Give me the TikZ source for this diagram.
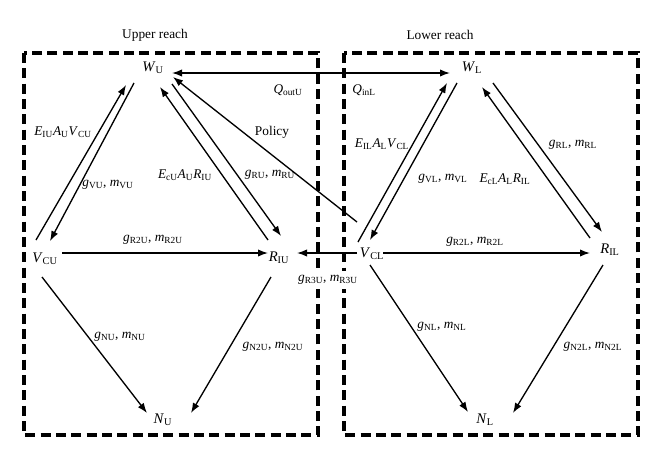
\documentclass[tikz,border=0pt]{standalone}
\usepackage{fontspec}
\setmainfont{Liberation Serif}
\usetikzlibrary{arrows.meta}

\newcommand{\sv}[2]{\textit{#1}\textsubscript{#2}}

\tikzset{
  flow/.style={-{Latex[length=7.5pt,width=5.5pt]}, line width=1pt},
  twoway/.style={{Latex[length=7.5pt,width=5.5pt]}-{Latex[length=7.5pt,width=5.5pt]}, line width=1pt},
  reach/.style={line width=2.4pt, dash pattern=on 7.5pt off 4pt},
  var/.style={inner sep=1pt, font=\fontsize{11}{13}\selectfont},
  lbl/.style={inner sep=1pt, font=\fontsize{10}{12}\selectfont},
}

\begin{document}
\begin{tikzpicture}[x=0.75pt, y=-0.75pt]

\useasboundingbox (0,0) rectangle (665,468);

\draw[reach] (24,53) rectangle (318,435);
\draw[reach] (344,53) rectangle (638,435);

\node[lbl] (upper) at (155,35) {Upper reach};
\node[lbl] (lower) at (440,35) {Lower reach};

\node[var] (WU) at (153,68) {\sv{W}{U}};
\node[var] (WL) at (472,68) {\sv{W}{L}};
\node[var] (VCU) at (45,259) {\sv{V}{CU}};
\node[var] (RIU) at (279,258) {\sv{R}{IU}};
\node[var] (VCL) at (372,254) {\sv{V}{CL}};
\node[var] (RIL) at (610,250) {\sv{R}{IL}};
\node[var] (NU) at (163,420) {\sv{N}{U}};
\node[var] (NL) at (485,420) {\sv{N}{L}};

\draw[flow] ([shift={(-9,-19)}]VCU.center) -- ([shift={(-27,17)}]WU.center);
\draw[flow] ([shift={(-19,15)}]WU.center) -- ([shift={(5,-18)}]VCU.center);
\draw[flow] ([shift={(-11,-18)}]RIU.center) -- ([shift={(7,19)}]WU.center);
\draw[flow] ([shift={(19,16)}]WU.center) -- ([shift={(2,-22)}]RIU.center);
\draw[flow] ([shift={(-15,-32)}]VCL.center) -- ([shift={(20,9)}]WU.center);
\draw[twoway] ([shift={(19,5)}]WU.center) -- ([shift={(-22,5)}]WL.center);

\draw[flow] ([shift={(-14,-12)}]VCL.center) -- ([shift={(-25,15)}]WL.center);
\draw[flow] ([shift={(-15,15)}]WL.center) -- ([shift={(-2,-14)}]VCL.center);
\draw[flow] ([shift={(-20,-12)}]RIL.center) -- ([shift={(10,19)}]WL.center);
\draw[flow] ([shift={(21,15)}]WL.center) -- ([shift={(-8,-18)}]RIL.center);

\draw[flow] ([shift={(17,-6)}]VCU.center) -- ([shift={(-11,-5)}]RIU.center);
\draw[flow] ([shift={(11,-1)}]VCL.center) -- ([shift={(-20,3)}]RIL.center);
\draw[flow] ([shift={(-15,-1)}]VCL.center) -- ([shift={(18,-5)}]RIU.center);

\draw[flow] ([shift={(-3,18)}]VCU.center) -- ([shift={(-16,-7)}]NU.center);
\draw[flow] ([shift={(-8,19)}]RIU.center) -- ([shift={(28,-7)}]NU.center);
\draw[flow] ([shift={(-2,11)}]VCL.center) -- ([shift={(-17,-8)}]NL.center);
\draw[flow] ([shift={(-7,15)}]RIL.center) -- ([shift={(28,-7)}]NL.center);

\node[lbl] (lQout) at (288,90) {\sv{Q}{outU}};
\node[lbl] (lQin) at (364,90) {\sv{Q}{inL}};
\node[lbl] (lPolicy) at (272,132) {Policy};
\node[lbl] (lEVU) at (63,132) {\sv{E}{IU}\sv{A}{U}\sv{V}{CU}};
\node[lbl] (lgVU) at (108,185) {\sv{g}{VU}, \sv{m}{VU}};
\node[lbl] (lERU) at (185,175) {\sv{E}{cU}\sv{A}{U}\sv{R}{IU}};
\node[lbl] (lgRU) at (270,175) {\sv{g}{RU}, \sv{m}{RU}};
\node[lbl] (lEVL) at (382,144) {\sv{E}{IL}\sv{A}{L}\sv{V}{CL}};
\node[lbl] (lgVL) at (443,179) {\sv{g}{VL}, \sv{m}{VL}};
\node[lbl] (lERL) at (505,179) {\sv{E}{cL}\sv{A}{L}\sv{R}{IL}};
\node[lbl] (lgRL) at (573,145) {\sv{g}{RL}, \sv{m}{RL}};
\node[lbl] (lgR2U) at (153,240) {\sv{g}{R2U}, \sv{m}{R2U}};
\node[lbl, fill=white, inner sep=3pt] (lgR3U) at (328,280) {\sv{g}{R3U}, \sv{m}{R3U}};
\node[lbl] (lgR2L) at (475,242) {\sv{g}{R2L}, \sv{m}{R2L}};
\node[lbl] (lgNU) at (120,337) {\sv{g}{NU}, \sv{m}{NU}};
\node[lbl] (lgN2U) at (273,347) {\sv{g}{N2U}, \sv{m}{N2U}};
\node[lbl] (lgNL) at (442,327) {\sv{g}{NL}, \sv{m}{NL}};
\node[lbl] (lgN2L) at (593,347) {\sv{g}{N2L}, \sv{m}{N2L}};

\end{tikzpicture}
\end{document}
